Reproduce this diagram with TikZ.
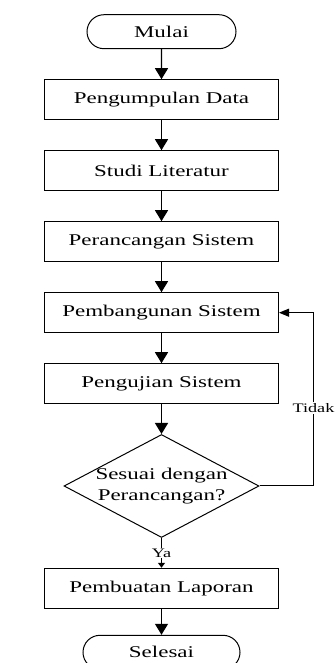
\documentclass[tikz,border=0pt]{standalone}
\usepackage{fontspec}
\setmainfont[FakeStretch=1.4]{Liberation Serif}
\usepackage{tikz}
\usetikzlibrary{matrix,arrows.meta,shapes.geometric,shapes.misc}

\begin{document}
\begin{tikzpicture}[x=1pt, y=1pt,
  proses/.style={draw, line width=1pt, minimum width=234pt, minimum height=40pt, inner sep=0pt},
  terminal/.style={draw, line width=1pt, rounded rectangle, minimum height=34pt, inner sep=0pt},
  keputusan/.style={draw, line width=1pt, diamond, aspect=1.9, minimum width=195pt, minimum height=103pt, inner xsep=-20pt, inner ysep=-8pt},
  keterangan/.style={fill=white, inner sep=1pt, font=\fontsize{13}{15}\selectfont},
  panah/.style={line width=1.3pt, -{Triangle[width=13pt,length=11pt]}},
  panahkecil/.style={line width=1.3pt, -{Triangle[width=7pt,length=5pt]}},
  panahbalik/.style={line width=1pt, -{Triangle[width=8pt,length=10pt]}}]
  \useasboundingbox (0,0) rectangle (336,-663);
  \matrix (m) [matrix of nodes, row sep=30pt, inner sep=0pt, anchor=north,
    nodes={font=\fontsize{16.4}{21}\selectfont}] at (161.5,-14)
  {
 |[terminal, minimum width=149pt]| Mulai \\
 |[proses]| Pengumpulan Data \\
 |[proses]| Studi Literatur \\
 |[proses]| Perancangan Sistem \\
 |[proses]| Pembangunan Sistem \\
 |[proses]| Pengujian Sistem \\
 |[keputusan]| \begin{tabular}{@{}c@{}}Sesuai dengan\\Perancangan?\end{tabular} \\
 |[proses]| Pembuatan Laporan \\[-4pt]
 |[terminal, minimum width=157pt]| Selesai \\
  };
  \path[panah]
  (m-1-1) edge (m-2-1)
  (m-2-1) edge (m-3-1)
  (m-3-1) edge (m-4-1)
  (m-4-1) edge (m-5-1)
  (m-5-1) edge (m-6-1)
  (m-6-1) edge (m-7-1)
  (m-7-1) edge [panahkecil] node [keterangan] {Ya} (m-8-1)
  (m-8-1) edge (m-9-1);
%  loop kembali ke pembangunan
  \draw[panahbalik] (m-7-1.east) -- ++(54,0) |- node [keterangan, pos=0.225] {Tidak} (m-5-1.east);
\end{tikzpicture}
\end{document}
